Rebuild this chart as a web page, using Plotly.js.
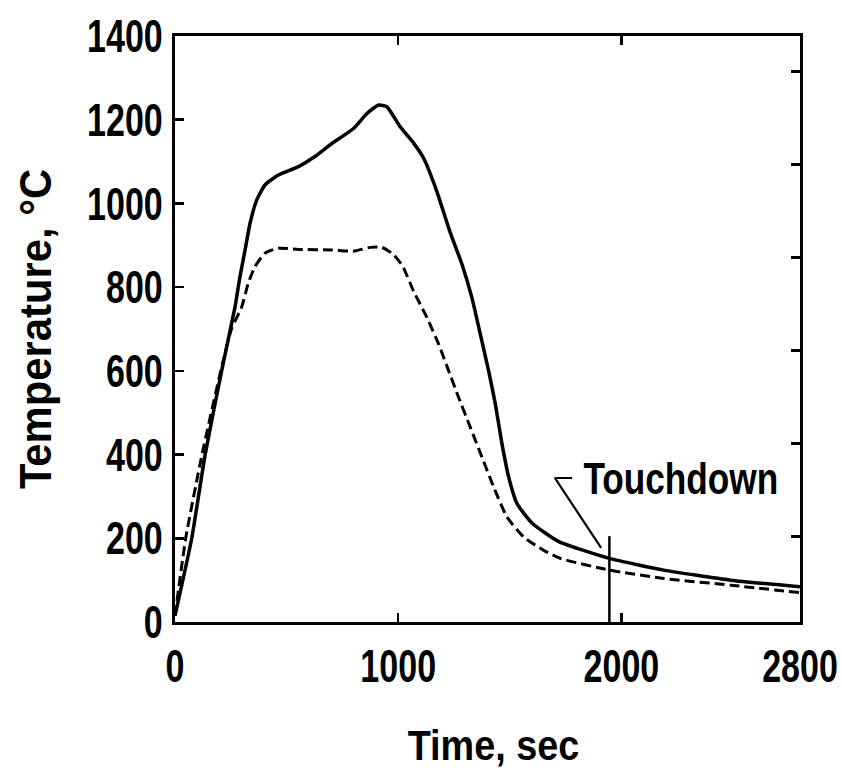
<!DOCTYPE html>
<html>
<head>
<meta charset="utf-8">
<script src="https://cdn.plot.ly/plotly-3.0.1.min.js"></script>
<style>html,body{margin:0;padding:0;background:#fff;}#chart{width:842px;height:778px;}</style>
</head>
<body>
<div id="chart"></div>
<script>
// Time (sec) and temperature (°C)
const solidTime = [0, 75, 135, 209, 269, 291, 314, 336, 366, 403, 463, 553, 627, 700, 800, 860, 912, 949, 1009, 1069, 1114, 1173, 1230, 1286, 1330, 1368, 1405, 1435, 1465, 1495, 1532, 1600, 1720, 1946, 2190, 2489, 2800];
const solidTemp = [15, 200, 400, 600, 753, 825, 889, 952, 1008, 1044, 1068, 1088, 1112, 1142, 1179, 1215, 1235, 1231, 1183, 1144, 1108, 1029, 935, 854, 775, 687, 600, 521, 425, 346, 283, 236, 192, 152, 124, 100, 84];

const dashTime = [0, 48, 121, 205, 253, 299, 328, 358, 403, 463, 553, 702, 800, 874, 927, 979, 1020, 1069, 1129, 1181, 1226, 1271, 1323, 1375, 1428, 1487, 1562, 1652, 1726, 1946, 2190, 2489, 2800];
const dashTemp = [15, 200, 400, 600, 700, 753, 809, 849, 881, 893, 890, 889, 886, 895, 895, 878, 850, 790, 727, 664, 600, 536, 465, 394, 322, 251, 203, 171, 152, 124, 104, 88, 70];

const touchdownTime = [1946, 1946];
const touchdownTemp = [0, 205];
const leaderTime = [1909, 1702, 1779];
const leaderTemp = [177, 344, 344];
const touchdownLabel = "Touchdown";
const labelTime = 2269;
const labelTemp = 344;

const xTicks = [0, 1000, 2000, 2800];
const yTicks = [0, 200, 400, 600, 800, 1000, 1200, 1400];
const fTicks = [400, 800, 1200, 1600, 2000, 2400];

const FONT = '"Liberation Sans", Arial, sans-serif';

const traces = [
  {x: solidTime, y: solidTemp, mode: 'lines', line: {color: '#000', width: 3.5, shape: 'spline', smoothing: 0.5}, showlegend: false, hoverinfo: 'skip'},
  {x: dashTime, y: dashTemp, mode: 'lines', line: {color: '#000', width: 3, dash: '10px,5px', shape: 'spline', smoothing: 0.5}, showlegend: false, hoverinfo: 'skip'},
  {x: touchdownTime, y: touchdownTemp, mode: 'lines', line: {color: '#000', width: 2.5}, showlegend: false, hoverinfo: 'skip'},
  {x: leaderTime, y: leaderTemp, mode: 'lines', line: {color: '#000', width: 2.2}, showlegend: false, hoverinfo: 'skip'},
  {x: [0, 2800], y: [32, 32], yaxis: 'y2', mode: 'lines', line: {width: 0}, showlegend: false, hoverinfo: 'skip'}
];

const layout = {
  width: 842, height: 778,
  margin: {l: 175, r: 42, t: 36, b: 156},
  paper_bgcolor: '#fff', plot_bgcolor: '#fff',
  font: {family: FONT, color: '#000', size: 44, weight: 'bold'},
  showlegend: false,
  xaxis: {
    range: [0, 2800], tickvals: xTicks, ticktext: xTicks.map(String),
    ticks: 'inside', ticklen: 9, tickwidth: 2.5, tickcolor: '#000',
    showline: true, linewidth: 3, linecolor: '#000', mirror: 'ticks',
    showgrid: false, zeroline: false, ticklabelstandoff: 2, ticklabeloverflow: 'allow',
    tickfont: {family: FONT, size: 46, weight: 'bold'},
    title: {text: 'Time, sec', font: {family: FONT, size: 42, weight: 'bold'}, standoff: 40}
  },
  yaxis: {
    range: [0, 1400], tickvals: yTicks, ticktext: yTicks.map(String),
    ticks: 'inside', ticklen: 9, tickwidth: 2.5, tickcolor: '#000',
    showline: true, linewidth: 3, linecolor: '#000', mirror: true,
    showgrid: false, zeroline: false, ticklabelstandoff: 0, ticklabeloverflow: 'allow',
    tickfont: {family: FONT, size: 46, weight: 'bold'},
    title: {text: 'Temperature, °C', font: {family: FONT, size: 44, weight: 'bold'}, standoff: 5}
  },
  yaxis2: {
    overlaying: 'y', side: 'right', range: [32, 32 + 1.8 * 1400],
    tickvals: fTicks, ticks: 'inside', ticklen: 9, tickwidth: 2.5, tickcolor: '#000',
    showticklabels: false, showline: false, showgrid: false, zeroline: false
  },
  annotations: [
    {x: labelTime, y: labelTemp, xref: 'x', yref: 'y', text: touchdownLabel, showarrow: false,
     xanchor: 'center', yanchor: 'middle', font: {family: FONT, size: 44, weight: 'bold', color: '#000'}}
  ]
};

function squeeze(sel, s, dx) {
  document.querySelectorAll(sel).forEach(function (el) {
    const x = parseFloat(el.getAttribute('x')) || 0;
    const y = parseFloat(el.getAttribute('y')) || 0;
    const t = el.getAttribute('transform') || '';
    el.setAttribute('transform', 'translate(' + (dx || 0) + ',0) ' + t + ' translate(' + x + ',' + y + ') scale(' + s + ',1) translate(' + (-x) + ',' + (-y) + ')');
  });
}

Plotly.newPlot('chart', traces, layout, {staticPlot: true, displayModeBar: false}).then(function () {
  squeeze('#chart .xtick text', 0.74, 0);
  squeeze('#chart .ytick text', 0.74, 0);
  squeeze('#chart .g-xtitle text', 0.9, 6);
  squeeze('#chart .g-ytitle text', 0.95, 9);
  squeeze('#chart .annotation-text', 0.8, 0);
});
</script>
</body>
</html>
